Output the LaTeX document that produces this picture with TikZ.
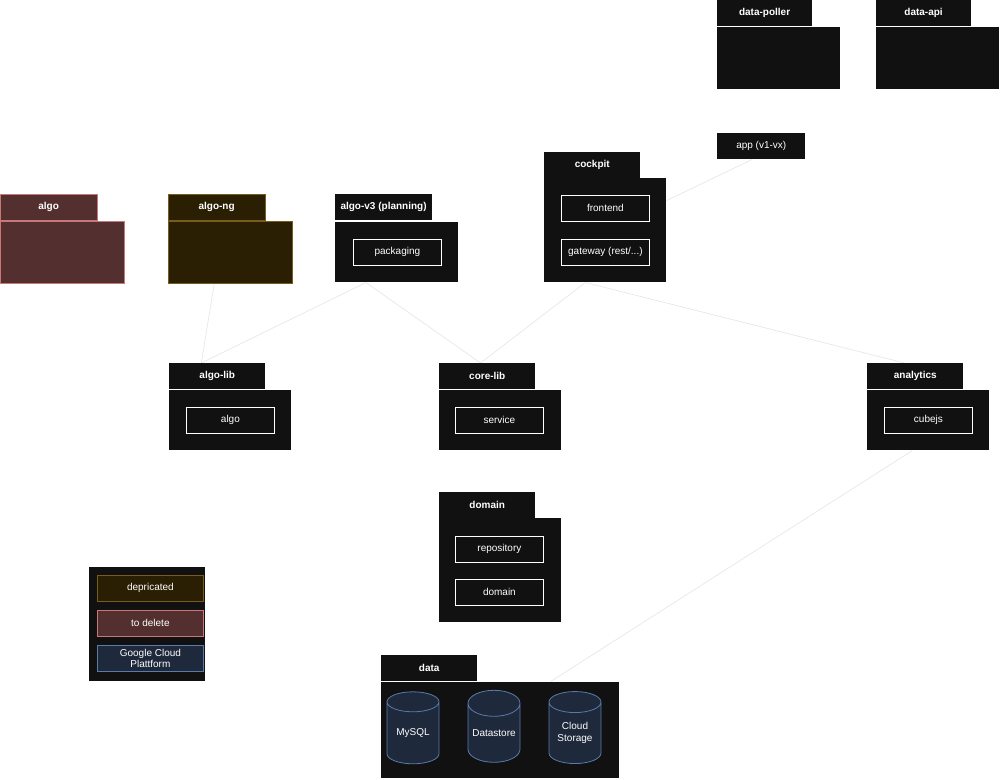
\documentclass[tikz,border=0pt]{standalone}
\usepackage{fontspec}
\setmainfont{Liberation Sans}
\usetikzlibrary{shapes.geometric,backgrounds}
\definecolor{bg}{HTML}{111111}
\definecolor{delfill}{HTML}{532F2F}
\definecolor{deldraw}{HTML}{C87878}
\definecolor{depfill}{HTML}{2B1F03}
\definecolor{depdraw}{HTML}{7A5C1A}
\definecolor{gcpfill}{HTML}{1E293B}
\definecolor{gcpdraw}{HTML}{5A7AAA}
\definecolor{link}{HTML}{E6E6E6}
\tikzset{
  tab/.style={anchor=north west, fill=bg, draw=none, text=white, inner sep=0pt, font=\fontsize{7.5}{8}\selectfont\bfseries, minimum height=19.5pt},
  body/.style={anchor=north west, fill=bg, draw=none, inner sep=0pt},
  part/.style={anchor=north west, fill=bg, draw=white, line width=0.6pt, text=white, inner sep=0pt, minimum width=66pt, minimum height=19.5pt, font=\fontsize{7.5}{8}\selectfont},
  db/.style={cylinder, shape border rotate=90, aspect=0.6, fill=gcpfill, draw=gcpdraw, line width=0.6pt, text=white, minimum width=39pt, minimum height=54pt, inner sep=0pt, align=center, font=\fontsize{7.5}{9}\selectfont},
  key/.style={anchor=north west, text=white, inner sep=0pt, line width=0.6pt, minimum width=79.5pt, minimum height=19.5pt, align=center, font=\fontsize{7.5}{8}\selectfont},
  link/.style={draw=link, line width=0.5pt}
}
\begin{document}
\begin{tikzpicture}[x=0.75pt, y=-0.75pt]
\useasboundingbox (0,0) rectangle (1000,779);
% top services
\node[tab, minimum width=71pt] (pollertab) at (717,0) {data-poller};
\node[body, minimum width=92pt, minimum height=46pt] (poller) at (717,27) {};
\node[tab, minimum width=71pt] (apitab) at (876,0) {data-api};
\node[body, minimum width=92pt, minimum height=46pt] (api) at (876,27) {};
\node[tab, font=\fontsize{7.5}{8}\selectfont, minimum width=66pt] (app) at (717,133) {app (v1-vx)};
% cockpit
\node[tab, minimum width=72pt] (cockpittab) at (544,152) {cockpit};
\node[body, minimum width=91.5pt, minimum height=78pt] (cockpit) at (544,178) {};
\node[part] (frontend) at (561,195) {frontend};
\node[part] (gateway) at (561,239) {gateway (rest/...)};
% algos
\node[tab, fill=delfill, draw=deldraw, minimum width=72.5pt] (algotab) at (0,194) {algo};
\node[body, fill=delfill, draw=deldraw, minimum width=93pt, minimum height=46.5pt] (algo) at (0,221) {};
\node[tab, fill=depfill, draw=depdraw, minimum width=72.5pt] (algongtab) at (168,194) {algo-ng};
\node[body, fill=depfill, draw=depdraw, minimum width=93pt, minimum height=46.5pt] (algong) at (168,221) {};
\node[tab, minimum width=72.5pt] (algovtab) at (335,194) {algo-v3 (planning)};
\node[body, minimum width=92pt, minimum height=45pt] (algov) at (335,222) {};
\node[part] (packaging) at (353,239) {packaging};
% libs
\node[tab, minimum width=72pt] (algolibtab) at (169,363) {algo-lib};
\node[body, minimum width=91.5pt, minimum height=45pt] (algolib) at (169,390) {};
\node[part] (algopart) at (186,407) {algo};
\node[tab, minimum width=72pt] (corelibtab) at (439,363) {core-lib};
\node[body, minimum width=91.5pt, minimum height=45pt] (corelib) at (439,390) {};
\node[part] (service) at (455,407) {service};
\node[tab, minimum width=72pt] (analyticstab) at (867,363) {analytics};
\node[body, minimum width=91.5pt, minimum height=45pt] (analytics) at (867,390) {};
\node[part] (cubejs) at (884,407) {cubejs};
% domain
\node[tab, minimum width=72pt] (domaintab) at (439,492) {domain};
\node[body, minimum width=91.5pt, minimum height=78pt] (domain) at (439,518) {};
\node[part] (repository) at (455,536) {repository};
\node[part] (domainpart) at (455,579) {domain};
% data
\node[tab, minimum width=72pt] (datatab) at (381,655) {data};
\node[body, minimum width=178.5pt, minimum height=72pt] (data) at (381,682) {};
\node[db] (mysql) at (413,733) {MySQL};
\node[db] (datastore) at (494,733) {Datastore};
\node[db] (storage) at (575,733) {Cloud\\Storage};
% legend
\node[body, minimum width=87pt, minimum height=85pt] (legend) at (89,567) {};
\node[key, fill=depfill, draw=depdraw] (deprecated) at (97,575) {depricated};
\node[key, fill=delfill, draw=deldraw] (todelete) at (97,610) {to delete};
\node[key, fill=gcpfill, draw=gcpdraw, font=\fontsize{7.5}{8}\selectfont] (gcp) at (97,645) {Google Cloud\\Plattform};
% links
\begin{scope}[on background layer]
\draw[link] ([xshift=-12pt]algong.south) -- ([xshift=-12pt]algolibtab.north);
\draw[link] ([xshift=-23pt]algov.south) -- ([xshift=-12pt]algolibtab.north);
\draw[link] ([xshift=-23pt]algov.south) -- ([xshift=-5pt]corelibtab.north);
\draw[link] ([xshift=-15pt]cockpit.south) -- ([xshift=-5pt]corelibtab.north);
\draw[link] ([xshift=-15pt]cockpit.south) -- ([xshift=-8pt]analyticstab.north);
\draw[link] ([xshift=-12pt]analytics.south) -- ([xshift=91pt]datatab.south);
\draw[link] ([yshift=-17pt]cockpit.north east) -- ([xshift=-7pt]app.south);
\end{scope}
\end{tikzpicture}
\end{document}
